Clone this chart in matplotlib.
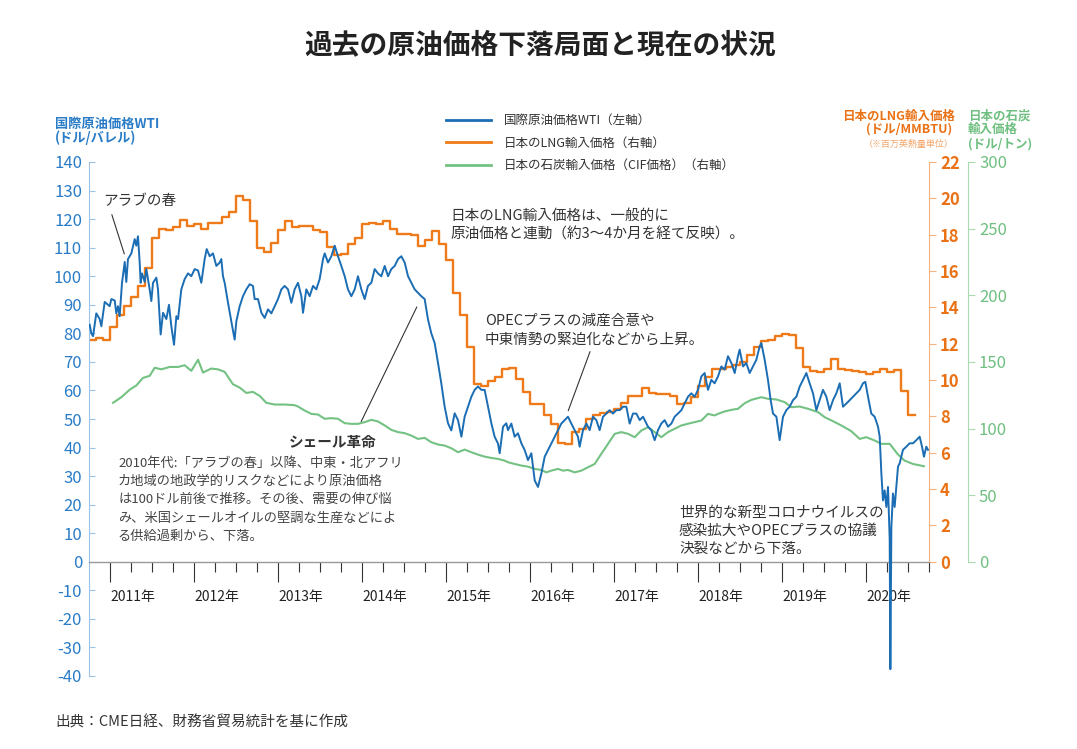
import numpy as np
import matplotlib
matplotlib.use("Agg")
import matplotlib.pyplot as plt
from matplotlib.lines import Line2D

plt.rcParams['font.family'] = ['Noto Sans CJK JP', 'DejaVu Sans']
plt.rcParams['axes.unicode_minus'] = False

# WTI crude price (decimal year, USD/barrel)
wti_year = [2010.758, 2010.778, 2010.798, 2010.837, 2010.877, 2010.897, 2010.937, 2010.996,
            2011.016, 2011.056, 2011.075, 2011.095, 2011.115, 2011.143, 2011.175, 2011.194,
            2011.214, 2011.254, 2011.294, 2011.313, 2011.333, 2011.353, 2011.365, 2011.381,
            2011.413, 2011.433, 2011.472, 2011.492, 2011.512, 2011.552, 2011.571, 2011.603,
            2011.631, 2011.671, 2011.702, 2011.730, 2011.762, 2011.790, 2011.810, 2011.849,
            2011.889, 2011.929, 2011.968, 2012.008, 2012.048, 2012.087, 2012.127, 2012.151,
            2012.187, 2012.226, 2012.266, 2012.306, 2012.325, 2012.345, 2012.365, 2012.405,
            2012.444, 2012.484, 2012.504, 2012.544, 2012.583, 2012.623, 2012.663, 2012.702,
            2012.722, 2012.762, 2012.802, 2012.841, 2012.881, 2012.921, 2012.960, 2013.000,
            2013.040, 2013.079, 2013.119, 2013.159, 2013.198, 2013.238, 2013.278, 2013.298,
            2013.337, 2013.377, 2013.417, 2013.456, 2013.496, 2013.536, 2013.556, 2013.595,
            2013.635, 2013.675, 2013.714, 2013.754, 2013.794, 2013.833, 2013.873, 2013.913,
            2013.952, 2013.992, 2014.032, 2014.071, 2014.111, 2014.151, 2014.190, 2014.230,
            2014.270, 2014.310, 2014.349, 2014.389, 2014.429, 2014.468, 2014.508, 2014.548,
            2014.587, 2014.627, 2014.667, 2014.706, 2014.746, 2014.786, 2014.825, 2014.865,
            2014.905, 2014.944, 2014.984, 2015.024, 2015.063, 2015.103, 2015.143, 2015.183,
            2015.222, 2015.262, 2015.302, 2015.341, 2015.381, 2015.421, 2015.460, 2015.500,
            2015.540, 2015.579, 2015.619, 2015.639, 2015.679, 2015.718, 2015.738, 2015.778,
            2015.817, 2015.857, 2015.897, 2015.937, 2015.976, 2016.016, 2016.056, 2016.095,
            2016.135, 2016.175, 2016.214, 2016.254, 2016.294, 2016.333, 2016.373, 2016.413,
            2016.452, 2016.492, 2016.532, 2016.571, 2016.591, 2016.631, 2016.671, 2016.710,
            2016.750, 2016.790, 2016.829, 2016.869, 2016.909, 2016.948, 2016.988, 2017.028,
            2017.067, 2017.107, 2017.147, 2017.186, 2017.226, 2017.266, 2017.306, 2017.345,
            2017.405, 2017.444, 2017.484, 2017.524, 2017.563, 2017.603, 2017.643, 2017.683,
            2017.722, 2017.762, 2017.802, 2017.841, 2017.881, 2017.921, 2017.960, 2018.000,
            2018.040, 2018.079, 2018.119, 2018.159, 2018.198, 2018.238, 2018.278, 2018.317,
            2018.357, 2018.397, 2018.437, 2018.476, 2018.496, 2018.536, 2018.575, 2018.615,
            2018.655, 2018.694, 2018.734, 2018.754, 2018.794, 2018.833, 2018.865, 2018.893,
            2018.933, 2018.972, 2019.012, 2019.052, 2019.091, 2019.131, 2019.171, 2019.210,
            2019.250, 2019.290, 2019.329, 2019.369, 2019.409, 2019.448, 2019.488, 2019.528,
            2019.567, 2019.607, 2019.647, 2019.687, 2019.726, 2019.766, 2019.806, 2019.845,
            2019.885, 2019.925, 2019.964, 2019.992, 2020.024, 2020.063, 2020.103, 2020.143,
            2020.163, 2020.183, 2020.202, 2020.222, 2020.242, 2020.262, 2020.282, 2020.290,
            2020.302, 2020.321, 2020.341, 2020.361, 2020.381, 2020.401, 2020.440, 2020.480,
            2020.520, 2020.560, 2020.599, 2020.639, 2020.667, 2020.690, 2020.718, 2020.738]
wti_price = [83, 80, 79, 87, 85, 82.5, 91, 89.5,
             92, 91.5, 87, 89.5, 86, 97.7, 105, 98,
             106, 108, 113, 110.7, 114, 105, 97.7, 101,
             98, 102.5, 95.4, 91.3, 97.7, 99.5, 95.5, 79.6,
             87.2, 85, 90, 82.5, 76, 86, 85, 95.4,
             99, 101, 100, 102.5, 102, 97.7, 106, 109.5,
             107, 108, 103.6, 104.8, 106, 100, 97.7, 90.7,
             84.2, 77.8, 84.2, 89.5, 93, 95.4, 97.2, 96.6,
             92, 92, 87.2, 85.4, 88.4, 87, 89.5, 92,
             95.4, 96.6, 95.4, 90.7, 95.4, 97.7, 93, 87.2,
             95.4, 93, 96.6, 95.4, 99, 106, 108, 104.8,
             107, 110.7, 107, 103.6, 100, 95.4, 93, 95.4,
             100, 95.4, 92, 96.6, 97.7, 102.5, 101, 100,
             103.6, 100, 102.5, 103.6, 106, 107, 104.8, 100,
             97.7, 95.4, 94.2, 93, 92, 84.8, 80, 76.6,
             69.6, 62.5, 54.3, 48.5, 46, 52, 49.6, 43.8,
             50.8, 54.3, 57.8, 60.2, 61.4, 60.2, 60.2, 54.3,
             48.5, 43.8, 41.4, 38, 47.3, 48.5, 46.1, 48.4,
             43.8, 45, 41.5, 39.1, 35.6, 38, 28.5, 26.2,
             30.9, 36.8, 39.1, 41.5, 43.8, 46.1, 48.4, 49.6,
             50.8, 48.4, 46.1, 43.8, 40.3, 46.1, 48.4, 46.1,
             50.8, 49.6, 46.1, 50.8, 51.9, 53.1, 51.9, 53.1,
             53.1, 54.3, 54.3, 48.4, 51.9, 51.9, 49.6, 50.8,
             47.3, 46.1, 42.6, 46.1, 48.4, 49.6, 47.3, 48.4,
             50.8, 51.9, 53.1, 55.4, 57.8, 59, 57.8, 60.2,
             64.9, 66.1, 60.2, 63.7, 62.5, 64.9, 68.4, 67.3,
             72, 69.6, 66.1, 72, 74.3, 68.4, 69.6, 66.1,
             68.4, 70.7, 75.4, 76.6, 70.7, 63.7, 56.6, 51.9,
             50.8, 42.6, 50.8, 53.1, 54.3, 56.6, 57.8, 61.3,
             63.7, 66.1, 62.5, 59, 53.1, 56.6, 60.2, 57.8,
             53.1, 56.6, 59, 62.5, 54.3, 55.4, 56.6, 57.8,
             59, 60.2, 62.5, 63, 57.8, 51.9, 50.8, 47.3,
             43.8, 30.9, 21.5, 25, 19.2, 26.2, 8, -37.6,
             12.2, 23.9, 19.2, 26.2, 33.3, 34.5, 39.2, 40.3,
             41.5, 41.5, 42.6, 43.8, 40.3, 36.8, 40.3, 39.2]

# Japan LNG import price, monthly from Oct 2010 (USD/MMBTU)
lng_first_month = (2010, 10)
lng_price = [12.19, 12.3, 12.19,
             12.92, 13.6, 14.08, 14.58, 15.18, 16.17, 17.84, 18.34, 18.25, 18.4, 18.8, 18.5,
             18.58, 18.34, 18.65, 18.65, 18.98, 19.26, 20.12, 19.9, 18.74, 17.27, 17.05, 17.57,
             18.25, 18.74, 18.4, 18.47, 18.47, 18.25, 18.16, 17.33, 16.87, 16.96, 17.48, 17.84,
             18.58, 18.65, 18.58, 18.76, 18.3, 18.06, 18.03, 17.97, 17.39, 17.7, 18.2, 17.5,
             16.6, 14.79, 13.56, 11.82, 9.8, 9.65, 9.94, 10.17, 10.6, 10.68, 10.07, 9.34,
             8.66, 8.66, 8.05, 7.59, 6.52, 6.49, 7.13, 7.32, 7.87, 8.1, 8.18, 8.24,
             8.42, 8.73, 9.12, 9.12, 9.57, 9.28, 9.25, 9.21, 9.15, 8.69, 8.73, 9.06,
             9.65, 10.16, 10.62, 10.62, 10.72, 10.81, 11.0, 11.36, 11.82, 12.15, 12.22, 12.41,
             12.52, 12.46, 11.78, 10.72, 10.49, 10.44, 10.59, 11.17, 10.62, 10.53, 10.49, 10.44,
             10.35, 10.44, 10.62, 10.44, 10.53, 9.39, 8.09]

# Japan coal import price CIF (decimal year, USD/ton)
coal_year = [2011.036, 2011.135, 2011.234, 2011.313, 2011.393, 2011.472, 2011.532, 2011.611,
             2011.710, 2011.810, 2011.889, 2011.968, 2012.048, 2012.107, 2012.206, 2012.286,
             2012.365, 2012.464, 2012.544, 2012.623, 2012.702, 2012.782, 2012.861, 2012.960,
             2013.079, 2013.198, 2013.238, 2013.317, 2013.397, 2013.476, 2013.556, 2013.635,
             2013.714, 2013.794, 2013.873, 2013.952, 2014.032, 2014.111, 2014.190, 2014.270,
             2014.349, 2014.429, 2014.508, 2014.587, 2014.667, 2014.746, 2014.825, 2014.905,
             2014.984, 2015.063, 2015.143, 2015.222, 2015.302, 2015.381, 2015.460, 2015.540,
             2015.619, 2015.698, 2015.738, 2015.817, 2015.897, 2015.976, 2016.056, 2016.135,
             2016.194, 2016.254, 2016.333, 2016.393, 2016.452, 2016.532, 2016.611, 2016.690,
             2016.770, 2016.849, 2016.929, 2017.008, 2017.087, 2017.167, 2017.246, 2017.325,
             2017.405, 2017.484, 2017.563, 2017.643, 2017.722, 2017.802, 2017.881, 2017.960,
             2018.040, 2018.119, 2018.198, 2018.238, 2018.317, 2018.397, 2018.476, 2018.556,
             2018.635, 2018.754, 2018.833, 2018.933, 2019.032, 2019.111, 2019.210, 2019.310,
             2019.429, 2019.508, 2019.607, 2019.706, 2019.825, 2019.925, 2020.004, 2020.103,
             2020.183, 2020.282, 2020.381, 2020.460, 2020.560, 2020.690]
coal_price = [119.3, 123.5, 129.1, 132.3, 138, 139.5, 145.6, 144.4,
              146.2, 146.2, 147.5, 143.3, 151.6, 142, 145, 144.4,
              142.5, 133.2, 130.7, 126.7, 127.5, 124.5, 119.3, 118,
              118, 117.5, 116.5, 113.5, 111, 110.5, 107.3, 107.8,
              107.3, 104, 103.5, 103.5, 104.8, 106.5, 105.3, 102.3,
              99, 97.3, 96.5, 94.7, 92.2, 93, 89.7, 88,
              87.2, 85.2, 82.2, 84.2, 82.2, 80.4, 78.9, 77.9,
              77.2, 75.9, 74.7, 73.4, 72.2, 71.4, 69.7, 68.9,
              67.1, 68.4, 69.7, 68.4, 68.9, 67.1, 68.4, 70.9,
              73.4, 81, 88.5, 96, 97.3, 96, 93.5, 98.5,
              101, 97.3, 93.5, 97.3, 99.8, 102.3, 103.6, 104.8,
              106, 111, 109.8, 111, 112.8, 114, 114.8, 119,
              121.5, 123.5, 122.3, 121.8, 119.8, 116, 116.5, 114.8,
              112.3, 108.5, 105.5, 102.3, 98, 92.2, 93.5, 91,
              88.5, 88.5, 80.5, 75.9, 73.4, 71.7]

years = list(range(2011, 2021))
year_labels = [f"{y}年" for y in years]

series_labels = ["国際原油価格WTI（左軸）", "日本のLNG輸入価格（右軸）",
                 "日本の石炭輸入価格（CIF価格）（右軸）"]

# colours
BLUE = "#1b6db4"
ORANGE = "#ef7a1a"
GREEN = "#74c283"
TEXT = "#333333"

W, H = 1077, 749


def fx(x):
    return x / W


def fy(y):
    return 1 - y / H


fig = plt.figure(figsize=(W / 100, H / 100), dpi=100)
ax = fig.add_axes([fx(89), fy(676), 840 / W, 514 / H])
ax2 = ax.twinx()
ax3 = ax.twinx()

# month start positions for the LNG step line
y0, m0 = lng_first_month
lng_x = y0 + (m0 - 1) / 12 + np.arange(len(lng_price) + 1) / 12
lng_y = lng_price + [lng_price[-1]]

ax2.step(lng_x, lng_y, where='post', color=ORANGE, lw=1.7)
ax3.plot(coal_year, coal_price, color=GREEN, lw=1.5)
ax.plot(wti_year, wti_price, color=BLUE, lw=1.4, zorder=3)

# main (left) axis
ax.set_zorder(ax3.get_zorder() + 2)
ax.patch.set_visible(False)
ax.set_xlim(2010.75, 2020.75)
ax.set_ylim(-40, 140)
ax.set_yticks(range(-40, 141, 10))
ax.tick_params(axis='y', direction='in', length=4, color="#9cc3e6",
               labelcolor="#2a7cc7", labelsize=12, pad=5)
ax.spines['left'].set_color("#9cc3e6")
ax.spines['left'].set_bounds(-40, 140)
ax.spines['top'].set_visible(False)
ax.spines['right'].set_visible(False)
ax.spines['bottom'].set_position(('data', 0))
ax.spines['bottom'].set_color("#9a9a9a")
ax.spines['bottom'].set_linewidth(1.0)

ax.set_xticks(years)
ax.set_xticks([y + q for y in range(2011, 2021) for q in (0.25, 0.5, 0.75)], minor=True)
ax.set_xticklabels(year_labels, ha='left', fontsize=10, color="#222222")
ax.tick_params(axis='x', which='major', direction='out', length=14.5, width=0.8,
               color="#333333", pad=6)
ax.tick_params(axis='x', which='minor', direction='out', length=7.2, width=0.8,
               color="#333333")

# LNG axis (right)
ax2.set_ylim(-40 * 22 / 140, 22)
ax2.set_yticks(range(0, 23, 2))
ax2.spines['right'].set_bounds(0, 22)
ax2.spines['right'].set_color("#f6b27c")
ax2.tick_params(axis='y', direction='out', length=5, color="#f6b27c",
                labelcolor="#ea7216", labelsize=12, pad=3)
for lab in ax2.get_yticklabels():
    lab.set_fontweight('bold')

# coal axis (outer right)
ax3.set_ylim(-40 * 300 / 140, 300)
ax3.set_yticks(range(0, 301, 50))
ax3.spines['right'].set_position(('outward', 28))
ax3.spines['right'].set_bounds(0, 300)
ax3.spines['right'].set_color("#a9dbb3")
ax3.tick_params(axis='y', direction='out', length=5, color="#a9dbb3",
                labelcolor="#6fbf80", labelsize=12, pad=3)

for a in (ax2, ax3):
    for s in ('top', 'bottom', 'left'):
        a.spines[s].set_visible(False)

# title
fig.text(fx(540), fy(45), "過去の原油価格下落局面と現在の状況", ha='center', va='center',
         fontsize=20, fontweight='bold', color="#222222")

# axis labels
fig.text(fx(55), fy(124), "国際原油価格WTI", color="#2a7cc7", fontsize=9.5,
         fontweight='bold', va='center')
fig.text(fx(55), fy(138), "(ドル/バレル)", color="#2a7cc7", fontsize=9.5,
         fontweight='bold', va='center')
fig.text(fx(955), fy(116), "日本のLNG輸入価格", color="#ea7216", fontsize=9,
         fontweight='bold', va='center', ha='right')
fig.text(fx(952), fy(129), "(ドル/MMBTU)", color="#ea7216", fontsize=9,
         fontweight='bold', va='center', ha='right')
fig.text(fx(954), fy(144), "（※百万英熱量単位）", color="#f2a468", fontsize=6.5,
         va='center', ha='right')
fig.text(fx(968), fy(116), "日本の石炭", color="#6fbf80", fontsize=9,
         fontweight='bold', va='center')
fig.text(fx(968), fy(129), "輸入価格", color="#6fbf80", fontsize=9,
         fontweight='bold', va='center')
fig.text(fx(968), fy(144), "(ドル/トン)", color="#6fbf80", fontsize=9,
         fontweight='bold', va='center')

# legend
handles = [Line2D([], [], color=BLUE, lw=2), Line2D([], [], color=ORANGE, lw=2),
           Line2D([], [], color=GREEN, lw=2)]
fig.legend(handles, series_labels, loc='upper left', bbox_to_anchor=(fx(440), fy(108)),
           bbox_transform=fig.transFigure, frameon=False, fontsize=9,
           handlelength=3.6, handletextpad=1.0, labelspacing=0.75, borderpad=0,
           labelcolor="#333333")

# annotations
fig.text(fx(103), fy(201), "アラブの春", fontsize=10.5, color=TEXT, va='center')
ax.annotate("", xy=(2011.18, 106.9), xytext=(fx(111), fy(212)), textcoords='figure fraction',
            arrowprops=dict(arrowstyle='-', color=TEXT, lw=0.8))

fig.text(fx(377), fy(442), "シェール革命", fontsize=10.5, fontweight='bold', color=TEXT,
         va='center', ha='right')
ax.annotate("", xy=(2014.667, 90.1), xytext=(fx(360), fy(424)), textcoords='figure fraction',
            arrowprops=dict(arrowstyle='-', color=TEXT, lw=0.8))

para = ["2010年代:「アラブの春」以降、中東・北アフリ",
        "カ地域の地政学的リスクなどにより原油価格",
        "は100ドル前後で推移。その後、需要の伸び悩",
        "み、米国シェールオイルの堅調な生産などによ",
        "る供給過剰から、下落。"]
for i, line in enumerate(para):
    fig.text(fx(118), fy(463 + i * 18.4), line, fontsize=9.5, color="#444444", va='center')

fig.text(fx(450), fy(216), "日本のLNG輸入価格は、一般的に", fontsize=10.5, color=TEXT, va='center')
fig.text(fx(450), fy(235), "原油価格と連動（約3～4か月を経て反映）。", fontsize=10.5, color=TEXT,
         va='center')

fig.text(fx(485), fy(321), "OPECプラスの減産合意や", fontsize=10.5, color=TEXT, va='center')
fig.text(fx(485), fy(340), "中東情勢の緊迫化などから上昇。", fontsize=10.5, color=TEXT, va='center')
ax.annotate("", xy=(2016.444, 52), xytext=(fx(591), fy(349)), textcoords='figure fraction',
            arrowprops=dict(arrowstyle='-', color=TEXT, lw=0.8))

corona = ["世界的な新型コロナウイルスの", "感染拡大やOPECプラスの協議", "決裂などから下落。"]
for i, line in enumerate(corona):
    fig.text(fx(679), fy(513 + i * 18), line, fontsize=10.5, color=TEXT, va='center')

fig.text(fx(55), fy(722), "出典：CME日経、財務省貿易統計を基に作成", fontsize=10.5,
         color=TEXT, va='center')

fig.savefig("out.png", dpi=100)
